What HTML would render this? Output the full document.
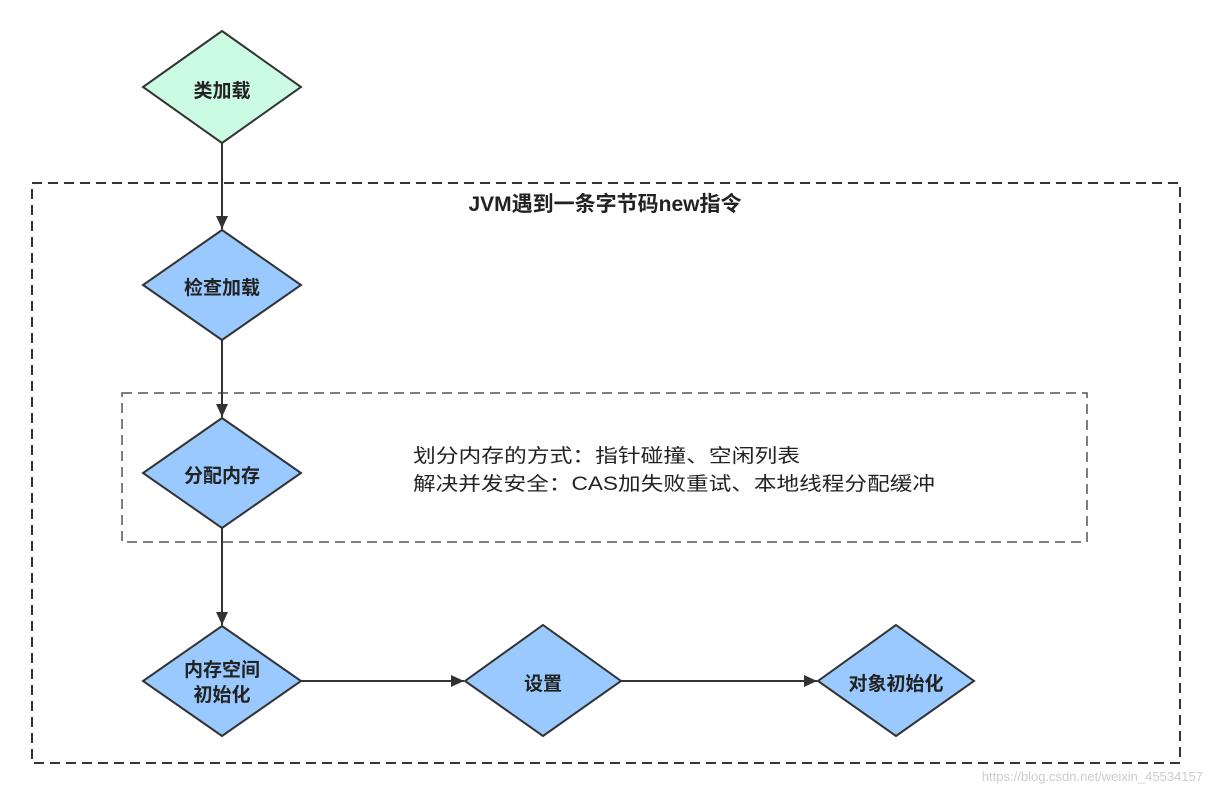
<!DOCTYPE html>
<html><head><meta charset="utf-8"><style>
html,body{margin:0;padding:0;background:#fff;}
svg{display:block;}
text{font-family:"Liberation Sans","Noto Sans CJK SC",sans-serif;fill:#222;}
.b{font-weight:bold;font-size:19px;}
</style></head><body>
<svg width="1211" height="794" viewBox="0 0 1211 794" xmlns="http://www.w3.org/2000/svg">
<defs><marker id="a" markerWidth="10" markerHeight="10" refX="9" refY="5" orient="auto" markerUnits="userSpaceOnUse"><path d="M0,0 L10,5 L0,10 z" fill="#333"/></marker>
<marker id="a2" markerWidth="14" markerHeight="14" refX="13" refY="6" orient="auto" markerUnits="userSpaceOnUse"><path d="M0,0 L13,6 L0,12 z" fill="#333"/></marker></defs>
<rect x="32" y="183" width="1148" height="580" fill="none" stroke="#333" stroke-width="2" stroke-dasharray="10,6"/>
<rect x="122" y="393" width="965" height="149" fill="none" stroke="#555" stroke-width="1.5" stroke-dasharray="10,6"/>
<text x="605" y="211" text-anchor="middle" class="b" style="font-size:21px">JVM遇到一条字节码new指令</text>
<g stroke="#333" stroke-width="2">
<line x1="222" y1="143" x2="222" y2="229" marker-end="url(#a2)"/>
<line x1="222" y1="340" x2="222" y2="417" marker-end="url(#a2)"/>
<line x1="222" y1="528" x2="222" y2="625" marker-end="url(#a2)"/>
<line x1="301" y1="681" x2="464" y2="681" marker-end="url(#a2)"/>
<line x1="621" y1="681" x2="817" y2="681" marker-end="url(#a2)"/>
</g>
<g stroke="#333" stroke-width="2">
<polygon points="222,31 301,87 222,143 143,87" fill="#ccfbe3"/>
<polygon points="222,230 301,285 222,340 143,285" fill="#99c9fe"/>
<polygon points="222,418 301,473 222,528 143,473" fill="#99c9fe"/>
<polygon points="222,626 301,681 222,736 143,681" fill="#99c9fe"/>
<polygon points="543,625 621,681 543,736 465,681" fill="#99c9fe"/>
<polygon points="896,625 974,681 896,736 818,681" fill="#99c9fe"/>
</g>
<text x="222" y="97" text-anchor="middle" class="b">类加载</text>
<text x="222" y="294" text-anchor="middle" class="b">检查加载</text>
<text x="222" y="482" text-anchor="middle" class="b">分配内存</text>
<text x="222" y="676" text-anchor="middle" class="b">内存空间</text>
<text x="222" y="701" text-anchor="middle" class="b">初始化</text>
<text x="543" y="690" text-anchor="middle" class="b">设置</text>
<text x="896" y="690" text-anchor="middle" class="b">对象初始化</text>
<text x="413" y="462" style="font-size:19px" textLength="387" lengthAdjust="spacingAndGlyphs">划分内存的方式：指针碰撞、空闲列表</text>
<text x="413" y="490" style="font-size:19px" textLength="522" lengthAdjust="spacingAndGlyphs">解决并发安全：CAS加失败重试、本地线程分配缓冲</text>
<text x="1203" y="781" text-anchor="end" style="font-size:13px;fill:#ccc">https://blog.csdn.net/weixin_45534157</text>
</svg>
</body></html>
